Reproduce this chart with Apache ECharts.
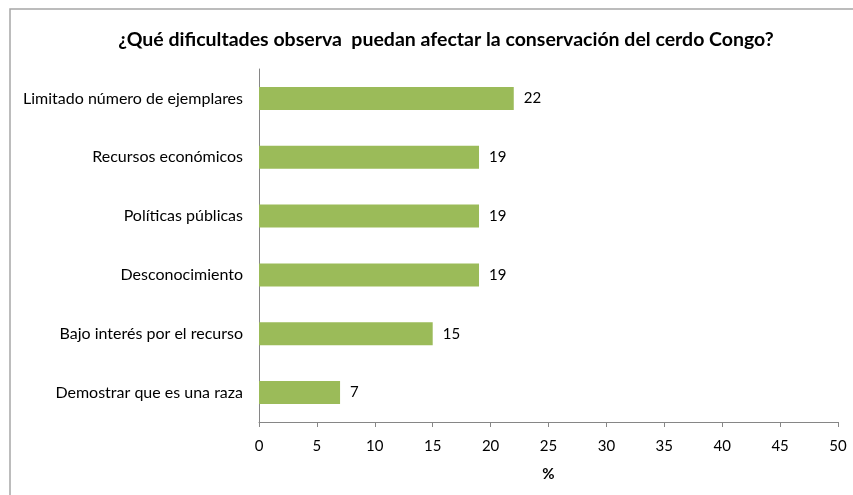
<!DOCTYPE html>
<html>
<head>
<meta charset="utf-8">
<script src="https://cdn.jsdelivr.net/npm/echarts@6/dist/echarts.min.js"></script>
<style>
  html, body { margin: 0; padding: 0; background: #fff; }
  #chart { width: 853px; height: 495px; }
</style>
</head>
<body>
<div id="chart"></div>
<script>
// Categories listed top to bottom
const categories = [
  'Limitado número de ejemplares',
  'Recursos económicos',
  'Políticas públicas',
  'Desconocimiento',
  'Bajo interés por el recurso',
  'Demostrar que es una raza'
];
// Percentage of respondents per difficulty
const values = [22, 19, 19, 19, 15, 7];
const titleText = '¿Qué dificultades observa  puedan afectar la conservación del cerdo Congo?';
const axisName = '%';

const font = 'Lato, "Open Sans", sans-serif';
const chart = echarts.init(document.getElementById('chart'));

chart.setOption({
  animation: false,
  title: {
    text: titleText,
    left: 441,
    textAlign: 'center',
    top: 25,
    textStyle: { fontFamily: font, fontSize: 19.5, fontWeight: 'bold', color: '#000' }
  },
  graphic: [{
    type: 'rect',
    shape: { x: 10, y: 9, width: 860, height: 500 },
    style: { fill: 'none', stroke: '#a6a6a6', lineWidth: 1.5 },
    silent: true
  }],
  grid: { left: 259, right: 15, top: 69, bottom: 73 },
  xAxis: {
    type: 'value',
    min: 0, max: 50, interval: 5,
    name: axisName,
    nameLocation: 'middle',
    nameGap: 45,
    nameTextStyle: { fontFamily: font, fontSize: 15, fontWeight: 'bold', color: '#000' },
    axisLine: { show: true, lineStyle: { color: '#868686', width: 1 } },
    axisTick: { show: true, length: 5, lineStyle: { color: '#868686' } },
    axisLabel: { fontFamily: font, fontSize: 15, color: '#000', margin: 17 },
    splitLine: { show: false }
  },
  yAxis: {
    type: 'category',
    data: categories,
    inverse: true,
    axisLine: { show: true, lineStyle: { color: '#868686', width: 1 } },
    axisTick: { show: false },
    axisLabel: { fontFamily: font, fontSize: 16, color: '#000', margin: 16 }
  },
  series: [{
    type: 'bar',
    data: values,
    barWidth: 23,
    itemStyle: { color: '#9bbb59' },
    label: {
      show: true,
      position: 'right',
      distance: 10,
      fontFamily: font,
      fontSize: 15,
      color: '#000'
    }
  }]
});
</script>
</body>
</html>
